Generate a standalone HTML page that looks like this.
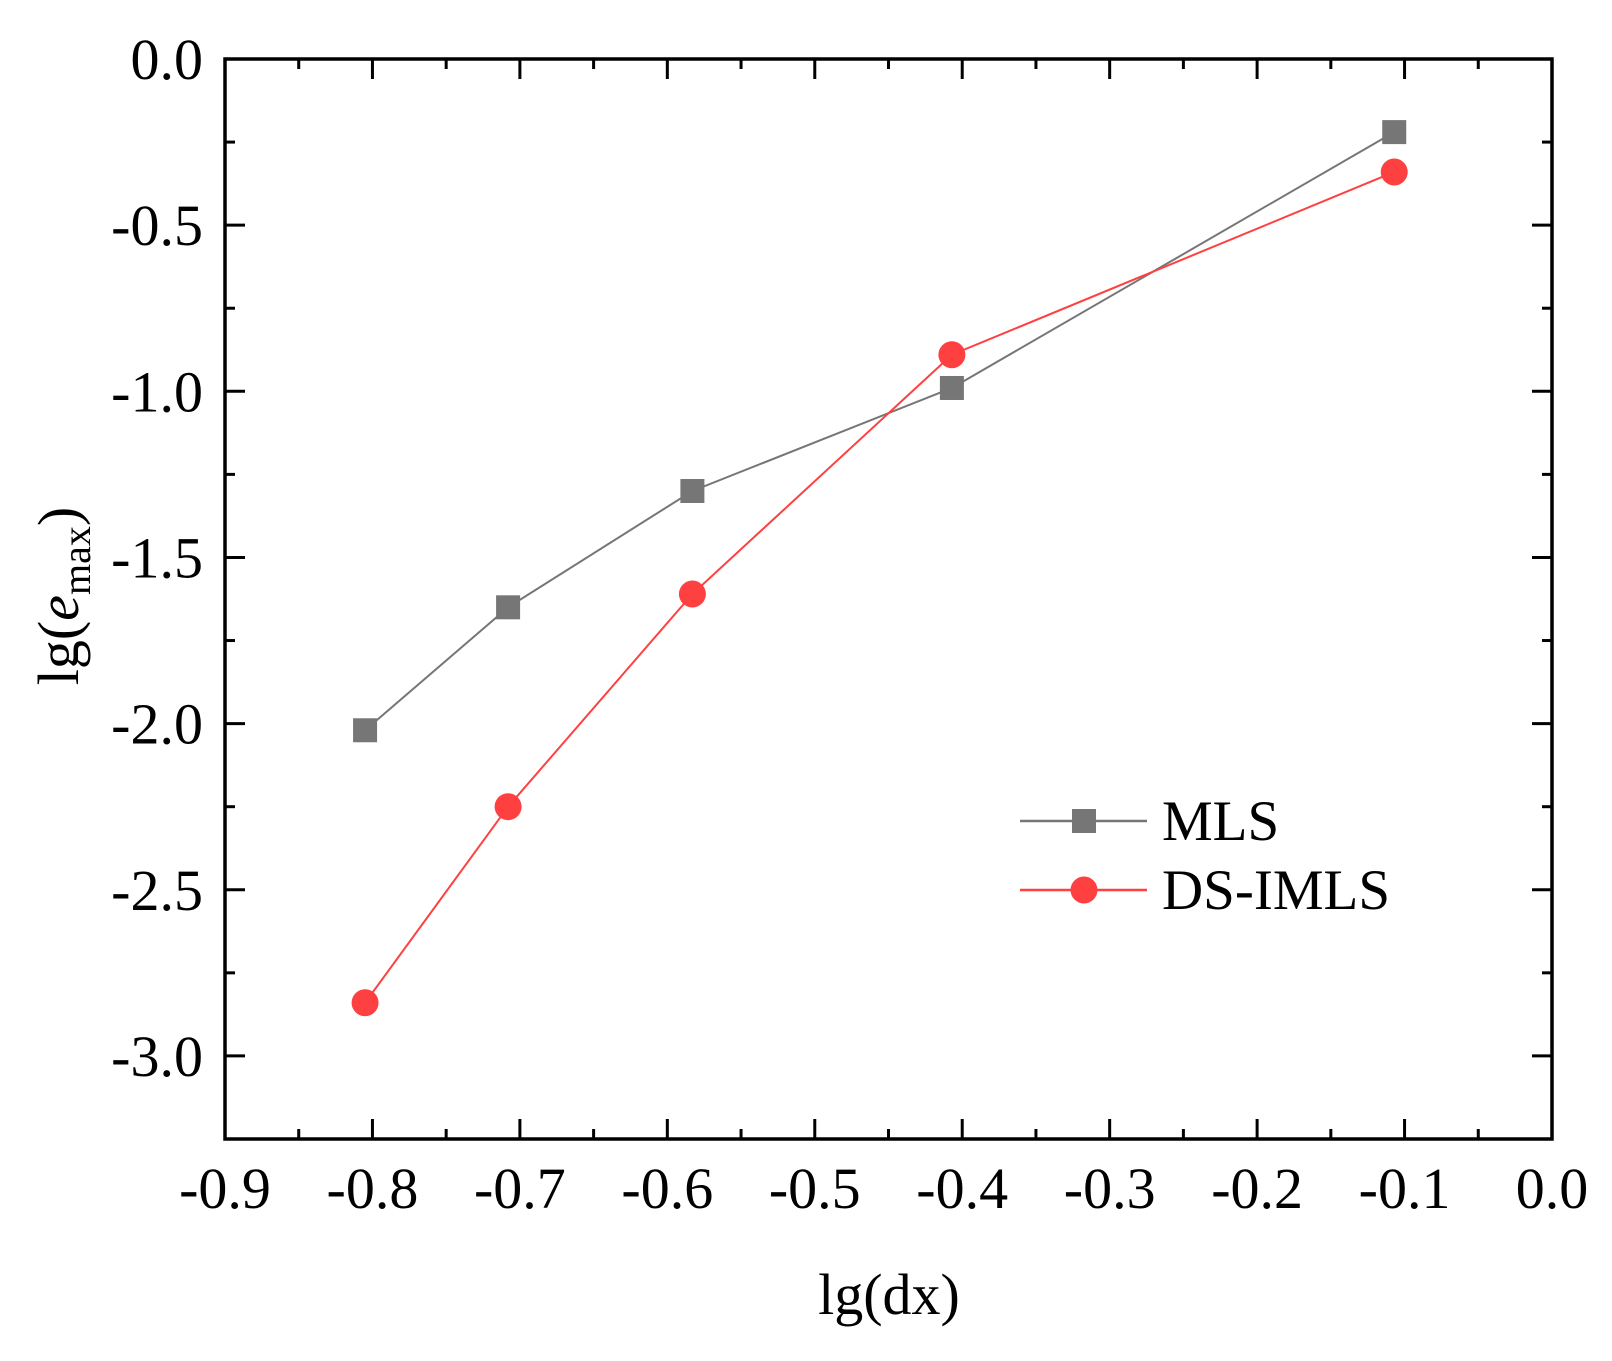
<!DOCTYPE html>
<html><head><meta charset="utf-8"><style>
html,body{margin:0;padding:0;background:#fff}
svg text{font-family:"Liberation Serif",serif;fill:#000}
</style></head><body>
<svg id="chart" width="1612" height="1356" xmlns="http://www.w3.org/2000/svg">
<g id="plot"></g>
</svg>
<script>
const xTicks=[-0.9,-0.8,-0.7,-0.6,-0.5,-0.4,-0.3,-0.2,-0.1,0.0];
const yTicks=[0.0,-0.5,-1.0,-1.5,-2.0,-2.5,-3.0];
const xVals=[-0.805,-0.708,-0.583,-0.407,-0.107];
const mlsVals=[-2.02,-1.65,-1.30,-0.99,-0.22];
const dsVals=[-2.84,-2.25,-1.61,-0.89,-0.34];
const seriesNames=["MLS","DS-IMLS"];

const L=225,R=1552,T=59,B=1139;
const xMin=-0.9,xMax=0,yMin=-3.25,yMax=0;
const sx=v=>L+(v-xMin)/(xMax-xMin)*(R-L);
const sy=v=>T+(yMax-v)/(yMax-yMin)*(B-T);
const NS="http://www.w3.org/2000/svg";
const g=document.getElementById('plot');
function mk(tag,attrs,parent){const e=document.createElementNS(NS,tag);for(const k in attrs)e.setAttribute(k,attrs[k]);(parent||g).appendChild(e);return e;}

xTicks.forEach((v,i)=>{
  const x=sx(v);
  const t=mk('line',{x1:x,x2:x,y1:B,y2:B-20,stroke:'#000','stroke-width':3});
  
  
  const t2=mk('line',{x1:x,x2:x,y1:T,y2:T+20,stroke:'#000','stroke-width':3});
  
  
  if(i<xTicks.length-1){
    const xm=sx(v+0.05);
    const m=mk('line',{x1:xm,x2:xm,y1:B,y2:B-10,stroke:'#000','stroke-width':3});
    
    
    const m2=mk('line',{x1:xm,x2:xm,y1:T,y2:T+10,stroke:'#000','stroke-width':3});
    
    
  }
  const lb=mk('text',{x:x,y:1208,'font-size':58,'text-anchor':'middle'});
  lb.textContent=v.toFixed(1);
  
  
});
yTicks.forEach(v=>{
  const y=sy(v);
  const t=mk('line',{x1:L,x2:L+20,y1:y,y2:y,stroke:'#000','stroke-width':3});
  
  
  const t2=mk('line',{x1:R,x2:R-20,y1:y,y2:y,stroke:'#000','stroke-width':3});
  
  
  const ym=sy(v-0.25);
  const m=mk('line',{x1:L,x2:L+10,y1:ym,y2:ym,stroke:'#000','stroke-width':3});
  
  
  const m2=mk('line',{x1:R,x2:R-10,y1:ym,y2:ym,stroke:'#000','stroke-width':3});
  
  
  const lb=mk('text',{x:203,y:y+20,'font-size':58,'text-anchor':'end'});
  lb.textContent=v.toFixed(1);
  
  
});
const frame=mk('rect',{x:L,y:T,width:R-L,height:B-T,fill:'none',stroke:'#000','stroke-width':3.5});



function series(vals,color,shape,name){
  const pts=xVals.map((x,i)=>sx(x)+','+sy(vals[i])).join(' ');
  const pl=mk('polyline',{points:pts,fill:'none',stroke:color,'stroke-width':2});
  
  
  xVals.forEach((x,i)=>{
    let m;
    if(shape==='sq') m=mk('rect',{x:sx(x)-12,y:sy(vals[i])-12,width:24,height:24,fill:color});
    else m=mk('circle',{cx:sx(x),cy:sy(vals[i]),r:13.5,fill:color});
    
    
  });
}
series(mlsVals,'#767676','sq','mls');
series(dsVals,'#ff4040','ci','ds-imls');

const lg=mk('g',{});


[[821,'#767676','sq'],[890,'#ff4040','ci']].forEach((d,i)=>{
  const l=mk('line',{x1:1020,x2:1147,y1:d[0],y2:d[0],stroke:d[1],'stroke-width':2.5},lg);
  
  
  let m;
  if(d[2]==='sq') m=mk('rect',{x:1072,y:d[0]-12,width:24,height:24,fill:d[1]},lg);
  else m=mk('circle',{cx:1084,cy:d[0],r:13.5,fill:d[1]},lg);
  
  
  const t=mk('text',{x:1162,y:d[0]+19,'font-size':57},lg);
  t.textContent=seriesNames[i];
  
  
});
</script>
<div style="position:absolute;left:0;top:0">
<svg width="1612" height="1356" xmlns="http://www.w3.org/2000/svg">
<text x="889" y="1314" font-size="58" text-anchor="middle" style="font-family:'Liberation Serif',serif">lg(dx)</text>
<text transform="translate(78,596) rotate(-90)" font-size="58" text-anchor="middle" style="font-family:'Liberation Serif',serif">lg(<tspan font-style="italic">e</tspan><tspan font-size="40" dy="12">max</tspan><tspan dy="-12">)</tspan></text>
</svg></div>
</body></html>
